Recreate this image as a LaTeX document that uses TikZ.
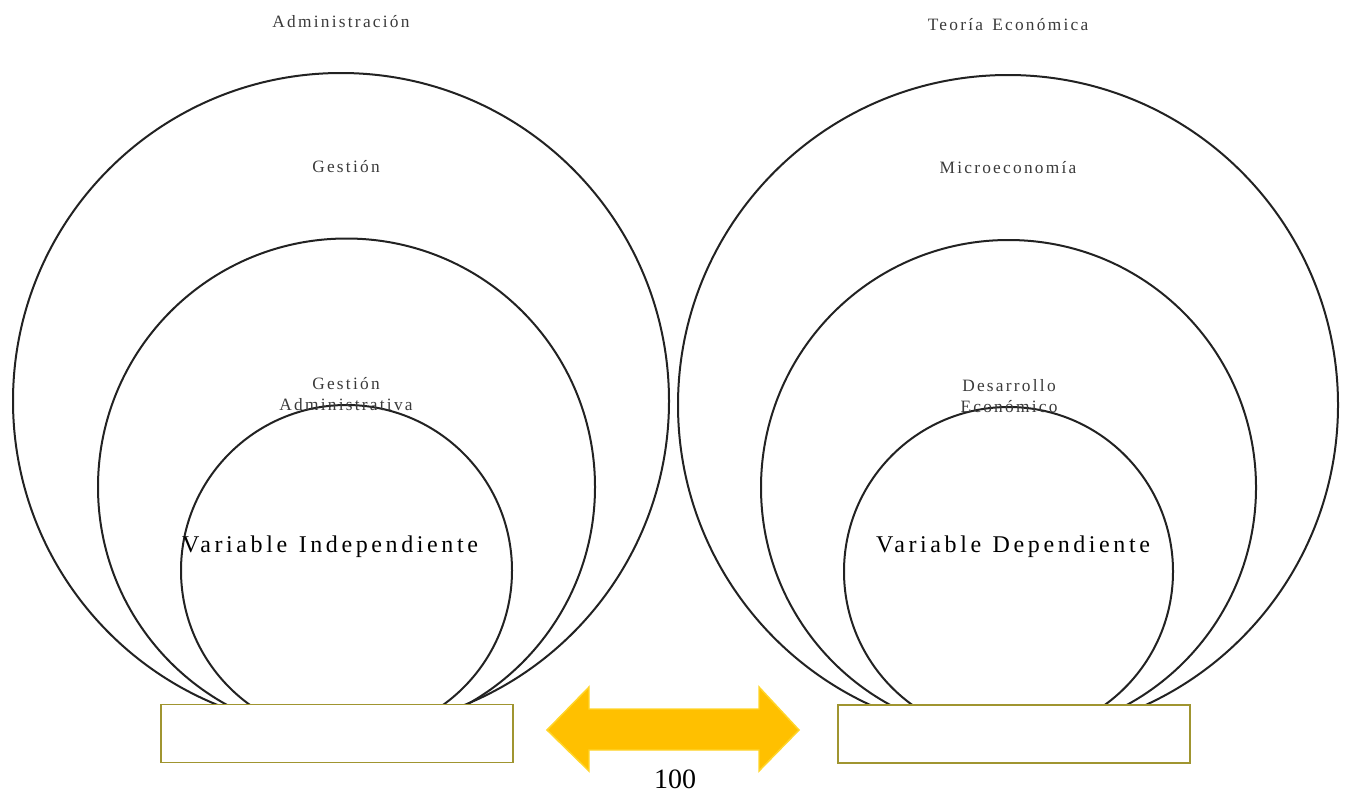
\documentclass[tikz,border=0pt]{standalone}
\usepackage{fontspec}
\setmainfont{Liberation Serif}
\newfontfamily\spacedsmall[LetterSpace=13,WordSpace=1.4]{Liberation Serif}
\newfontfamily\spacedbig[LetterSpace=15,WordSpace=1.2]{Liberation Serif}
\definecolor{ringc}{HTML}{222222}
\definecolor{boxc}{HTML}{A09530}
\definecolor{arrowfill}{HTML}{FFC000}
\definecolor{arrowline}{HTML}{FFD52A}
\definecolor{labc}{HTML}{3A3A3A}
\begin{document}
\begin{tikzpicture}[x=0.75pt,y=-0.75pt,
  ring/.style={circle,draw=ringc,line width=1.5pt,inner sep=0pt,minimum size=#1*1.5pt},
  basebox/.style={rectangle,draw=boxc,line width=1.1pt,fill=white,inner sep=0pt,minimum width=264pt,minimum height=43.5pt},
  smalllab/.style={text=labc,font=\spacedsmall\fontsize{13}{15.75}\selectfont,align=center,inner sep=0pt},
  biglab/.style={text=black,font=\spacedbig\fontsize{18}{20}\selectfont,inner sep=0pt},
  numlab/.style={text=black,font=\fontsize{21}{24}\selectfont,inner sep=0pt,anchor=base}]
\useasboundingbox (0,0) rectangle (1345,793);
% left rings
\node[ring=328] (LA) at (341,401) {};
\node[ring=248.5] (LB) at (346.5,487) {};
\node[ring=165.5] (LC) at (346.5,570.5) {};
% right rings
\node[ring=330] (RA) at (1008,405) {};
\node[ring=247.5] (RB) at (1008.5,487.5) {};
\node[ring=164.5] (RC) at (1008.5,571.5) {};
% base boxes
\node[basebox] (LBox) at (337,733.5) {};
\node[basebox] (RBox) at (1014,734) {};
% double arrow
\draw[fill=arrowfill,draw=arrowline,line width=1.1pt,line join=miter]
  (547,730) -- (589,687) -- (589,709) -- (759,709) -- (759,687) -- (799,730)
  -- (759,771) -- (759,750) -- (589,750) -- (589,771) -- cycle;
% labels
\node[smalllab] (tA) at (341,22) {Administración};
\node[smalllab] (tB) at (346,167) {Gestión};
\node[smalllab] (tC) at (346,394) {Gestión\\Administrativa};
\node[biglab] (tD) at (330,547) {Variable Independiente};
\node[smalllab] (uA) at (1008,25) {Teoría Económica};
\node[smalllab] (uB) at (1008,168) {Microeconomía};
\node[smalllab] (uC) at (1009,396) {Desarrollo\\Económico};
\node[biglab] (uD) at (1013,547) {Variable Dependiente};
\node[numlab] (num) at (675,788.5) {100};
\end{tikzpicture}
\end{document}
